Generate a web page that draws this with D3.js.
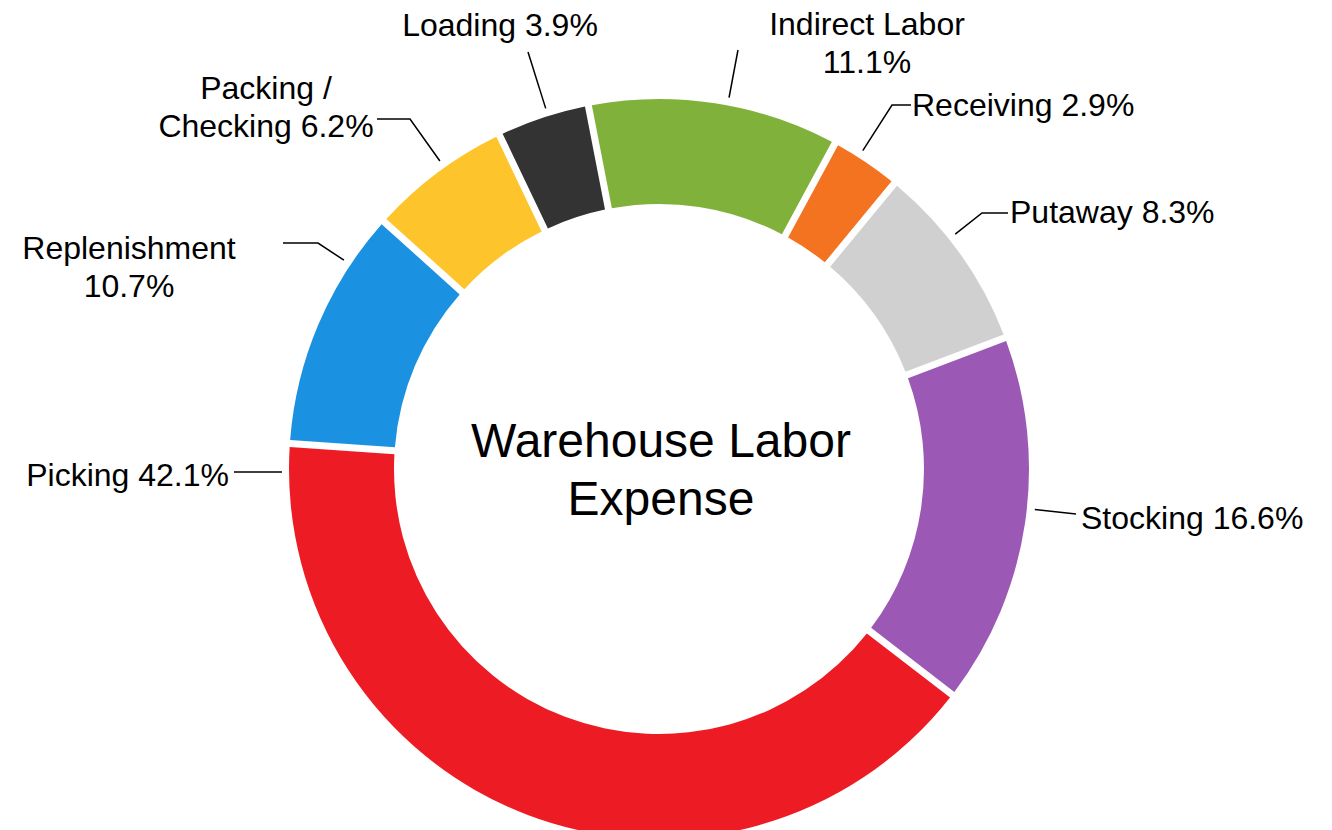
<!DOCTYPE html>
<html>
<head>
<meta charset="utf-8">
<script src="https://cdn.jsdelivr.net/npm/d3@7"></script>
<style>
  html, body { margin: 0; padding: 0; background: #fff; }
  svg { display: block; font-family: "Liberation Sans", Arial, sans-serif; }
</style>
</head>
<body>
<div id="chart"></div>
<script>
// slice order, clockwise from the top
const categories = ["Indirect Labor", "Receiving", "Putaway", "Stocking", "Picking", "Replenishment", "Packing / Checking", "Loading"];
const shares = [11.1, 2.9, 8.3, 16.6, 42.1, 10.7, 6.2, 3.9];
const colors = ["#80b23b", "#f37321", "#d0d0d0", "#9b59b5", "#ed1c24", "#1b91e1", "#fec42b", "#333333"];
const title = ["Warehouse Labor", "Expense"];

// label placement (labels were dragged by hand in the original)
// x,y = text anchor / first baseline, elbow = where the leader bends, end = where it meets the text
const labelLayout = [
    { x: 867, y: 35, anchor: "middle", breakAfter: 2, elbow: [738, 50], end: null },
    { x: 912, y: 116, anchor: "start", breakAfter: 0, elbow: [892, 105], end: [911, 105] },
    { x: 1010, y: 223, anchor: "start", breakAfter: 0, elbow: [982, 213], end: [1008, 213] },
    { x: 1081, y: 529, anchor: "start", breakAfter: 0, elbow: [1076, 514], end: null },
    { x: 229, y: 486, anchor: "end", breakAfter: 0, elbow: [282, 472], end: [234, 472] },
    { x: 129, y: 259, anchor: "middle", breakAfter: 1, elbow: [318, 243], end: [283, 243] },
    { x: 266, y: 99, anchor: "middle", breakAfter: 2, elbow: [410, 119], end: [377, 119] },
    { x: 500, y: 36, anchor: "middle", breakAfter: 0, elbow: [528, 52], end: null }
];

const width = 1332, height = 830;
const cx = 659, cy = 469;
const outerR = 370, innerR = 265, leaderR = 378;
const startAngle = -11 * Math.PI / 180;

const data = categories.map((c, i) => ({ name: c, share: shares[i], color: colors[i], layout: labelLayout[i] }));

const svg = d3.select("#chart")
    .append("svg")
    .attr("width", width)
    .attr("height", height);

const g = svg.append("g")
    .attr("transform", `translate(${cx},${cy})`);

const pie = d3.pie()
    .sort(null)
    .value(d => d.share)
    .startAngle(startAngle)
    .endAngle(startAngle + 2 * Math.PI)
    .padAngle(7 / outerR);

const arc = d3.arc()
    .innerRadius(innerR)
    .outerRadius(outerR)
    .padRadius(outerR);

const arcs = pie(data);

// ring
g.selectAll("path.slice")
    .data(arcs)
    .join("path")
    .attr("class", "slice")
    .attr("d", arc)
    .attr("fill", d => d.data.color);

// leader lines: start on the slice edge nearest to the elbow
function leaderStart(d) {
    const ex = d.data.layout.elbow[0] - cx, ey = d.data.layout.elbow[1] - cy;
    let a = Math.atan2(ex, -ey);
    if (a < d.startAngle) a += 2 * Math.PI;
    const m = 0.02;
    a = Math.max(d.startAngle + m, Math.min(d.endAngle - m, a));
    return [cx + leaderR * Math.sin(a), cy - leaderR * Math.cos(a)];
}

svg.selectAll("path.leader")
    .data(arcs)
    .join("path")
    .attr("class", "leader")
    .attr("d", d => {
        const pts = [leaderStart(d), d.data.layout.elbow];
        if (d.data.layout.end) pts.push(d.data.layout.end);
        return d3.line()(pts);
    })
    .attr("fill", "none")
    .attr("stroke", "#000")
    .attr("stroke-width", 1.5);

// labels
const labels = svg.selectAll("text.label")
    .data(arcs)
    .join("text")
    .attr("class", "label")
    .attr("x", d => d.data.layout.x)
    .attr("y", d => d.data.layout.y)
    .attr("text-anchor", d => d.data.layout.anchor)
    .attr("font-size", 32)
    .attr("fill", "#000");

labels.each(function (d) {
    const words = `${d.data.name} ${d.data.share.toFixed(1)}%`.split(" ");
    const k = d.data.layout.breakAfter;
    const lines = k ? [words.slice(0, k).join(" "), words.slice(k).join(" ")] : [words.join(" ")];
    d3.select(this).selectAll("tspan")
        .data(lines)
        .join("tspan")
        .attr("x", d.data.layout.x)
        .attr("dy", (l, i) => i === 0 ? 0 : 38)
        .text(l => l);
});

// centre title
svg.append("text")
    .attr("x", cx + 2)
    .attr("y", 457)
    .attr("text-anchor", "middle")
    .attr("font-size", 48)
    .attr("fill", "#000")
    .selectAll("tspan")
    .data(title)
    .join("tspan")
    .attr("x", cx + 2)
    .attr("dy", (t, i) => i === 0 ? 0 : 58)
    .text(t => t);
</script>
</body>
</html>
